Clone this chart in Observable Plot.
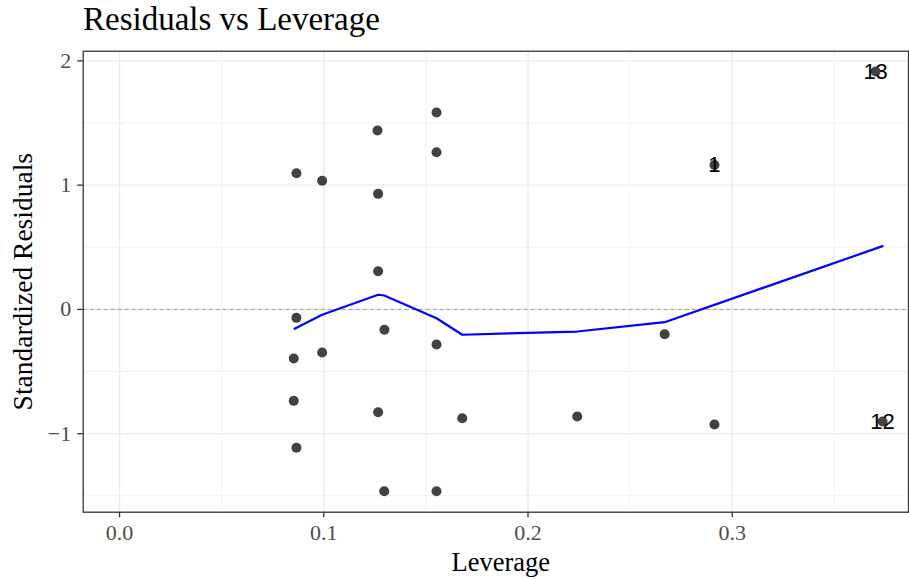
<!DOCTYPE html>
<html>
<head>
<meta charset="utf-8">
<script src="https://cdn.jsdelivr.net/npm/d3@7"></script>
<script src="https://cdn.jsdelivr.net/npm/@observablehq/plot@0.6"></script>
<style>
  body { margin: 0; background: #ffffff; }
  #title {
    height: 38px;
    font: 33px/38px "Liberation Serif", "Times New Roman", serif;
    padding-left: 83px;
    color: #000;
    white-space: nowrap;
  }
  #chart svg { display: block; }
</style>
</head>
<body>
<div id="title">Residuals vs Leverage</div>
<div id="chart"></div>
<script>
// Leverage (hat values) and standardized residuals for each observation
const leverage = [
  0.0866, 0.0992, 0.1263, 0.1266, 0.1266, 0.1266, 0.1552, 0.1552,
  0.1552, 0.1552, 0.1296, 0.1297, 0.0866, 0.0853, 0.0992, 0.0853,
  0.0866, 0.1678, 0.2241, 0.2669, 0.2913, 0.2913, 0.3702, 0.3736
];
const stdResid = [
  1.096, 1.035, 1.440, 0.930, 0.307, -0.827, 1.585, 1.265,
  -0.282, -1.463, -1.463, -0.164, -0.068, -0.395, -0.347, -0.736,
  -1.114, -0.876, -0.862, -0.200, -0.926, 1.162, 1.915, -0.902
];
// Observation ids shown for the most influential points ("" = unlabelled)
const obsLabel = [
  "", "", "", "", "", "", "", "",
  "", "", "", "", "", "", "", "",
  "", "", "", "", "", "1", "13", "12"
];

// Smoothed trend of the residuals against leverage
const smoothLeverage = [0.0857, 0.0992, 0.1266, 0.1296, 0.1552, 0.1678, 0.2241, 0.2669, 0.3736];
const smoothResid = [-0.156, -0.043, 0.118, 0.112, -0.071, -0.204, -0.178, -0.103, 0.509];

// Axis breaks
const xTicks = [0, 0.1, 0.2, 0.3];
const xMinor = [0.05, 0.15, 0.25, 0.35];
const yTicks = [-1, 0, 1, 2];
const yMinor = [-1.5, -0.5, 0.5, 1.5];

const points = leverage.map((x, i) => ({x, y: stdResid[i], label: obsLabel[i]}));
const labelled = points.filter(d => d.label !== "");
const smooth = smoothLeverage.map((x, i) => ({x, y: smoothResid[i]}));

const gridColor = "#EBEBEB";
const inkDark = "#333333";

const chart = Plot.plot({
  width: 909,
  height: 541,
  marginTop: 12.7,
  marginRight: 1,
  marginBottom: 67.3,
  marginLeft: 82.7,
  style: {fontFamily: '"Liberation Serif", "Times New Roman", serif', background: "#ffffff", overflow: "visible"},
  x: {domain: [-0.0178, 0.3863]},
  y: {domain: [-1.632, 2.078]},
  marks: [
    Plot.gridX(xMinor, {stroke: gridColor, strokeOpacity: 1, strokeWidth: 0.7}),
    Plot.gridY(yMinor, {stroke: gridColor, strokeOpacity: 1, strokeWidth: 0.7}),
    Plot.gridX(xTicks, {stroke: gridColor, strokeOpacity: 1, strokeWidth: 1.4}),
    Plot.gridY(yTicks, {stroke: gridColor, strokeOpacity: 1, strokeWidth: 1.4}),
    Plot.ruleY([0], {stroke: "#999999", strokeDasharray: "4,3", strokeWidth: 0.9}),
    Plot.dot(points, {x: "x", y: "y", r: 5, fill: "#424242", stroke: null}),
    Plot.line(smooth, {x: "x", y: "y", stroke: "blue", strokeWidth: 2.2}),
    Plot.text(labelled, {
      x: "x", y: "y", text: "label",
      fontFamily: '"Liberation Sans", Arial, sans-serif', fontSize: 22, fill: "black"
    }),
    Plot.frame({stroke: inkDark, strokeWidth: 1.3}),
    Plot.axisX(xTicks, {
      tickSize: 5.5, tickPadding: 7, fontSize: 22,
      fill: "#4D4D4D", stroke: inkDark, strokeWidth: 1.3,
      tickFormat: d => d.toFixed(1), label: null
    }),
    Plot.axisY(yTicks, {
      tickSize: 5.5, tickPadding: 6.5, fontSize: 22,
      fill: "#4D4D4D", stroke: inkDark, strokeWidth: 1.3,
      tickFormat: d => (d < 0 ? "\u2212" + Math.abs(d) : String(d)), label: null
    }),
    Plot.text(["Leverage"], {
      text: d => d, frameAnchor: "bottom", lineAnchor: "middle", textAnchor: "middle",
      dx: 5, dy: 50, fontSize: 26.5, fill: "black"
    }),
    Plot.text(["Standardized Residuals"], {
      text: d => d, frameAnchor: "left", lineAnchor: "middle", textAnchor: "middle",
      rotate: -90, dx: -60.5, fontSize: 27.5, fill: "black"
    })
  ]
});

document.getElementById("chart").appendChild(chart);
</script>
</body>
</html>
